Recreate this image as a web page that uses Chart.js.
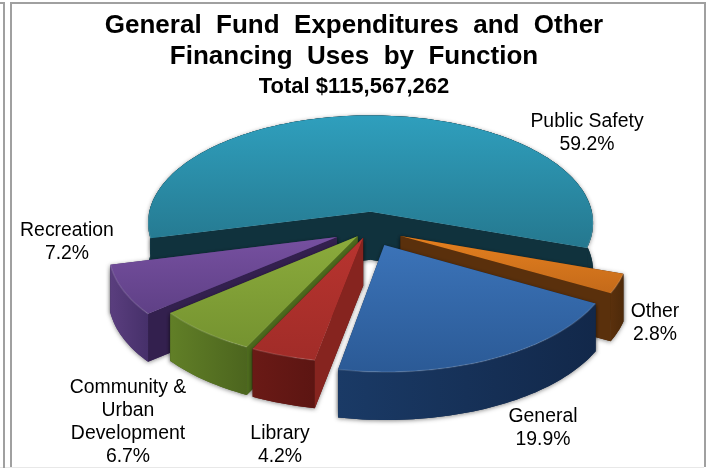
<!DOCTYPE html>
<html lang="en">
<head>
    <meta charset="UTF-8">
    <title>General Fund Expenditures</title>
    <script src="https://cdn.jsdelivr.net/npm/chart.js"></script>
    <style>
        html, body { margin: 0; background: #fff; overflow: hidden; }
        .frame-outer { position: absolute; left: 0; top: 2px; width: 3px; height: 466px; border-top: 2px solid #a0a0a0; border-right: 2px solid #a0a0a0; box-sizing: content-box; }
        .frame-inner { position: absolute; left: 10px; top: 2px; width: 692px; height: 463px; border: 2px solid #a0a0a0; border-bottom: 0; }
        .frame-base { position: absolute; left: 0; top: 467px; width: 704px; height: 1px; background: #e8e8e8; }
        canvas { position: absolute; left: 0; top: 0; }
    </style>
</head>
<body>
    <canvas id="fundChart" width="708" height="468"></canvas>
    <div class="frame-base"></div>
    <div class="frame-outer"></div>
    <div class="frame-inner"></div>

    <script>
        // Function names and share of the total, clockwise from the top slice
        const categories = ['Public Safety', 'Other', 'General', 'Library', 'Community & Urban Development', 'Recreation'];
        const shares = [59.2, 2.8, 19.9, 4.2, 6.7, 7.2];
        const labelLines = [['Public Safety'], ['Other'], ['General'], ['Library'], ['Community &', 'Urban', 'Development'], ['Recreation']];
        const titleLines = ['General  Fund  Expenditures  and  Other', 'Financing  Uses  by  Function'];
        const subtitleText = 'Total $115,567,262';

        // How far each slice is pulled out of the pie
        const explode = [27, 26, 27, 14, 14, 27];

        // Top gradient (far, near), radial wall, outer wall (left, right)
        const palette = [
            { far: '#2f9fbd', near: '#25788f', side: '#10323d', wallA: '#13404e', wallB: '#10323d' },
            { far: '#e4801f', near: '#c46a1a', side: '#5a300c', wallA: '#5a300c', wallB: '#4e2a0a' },
            { far: '#3b73b8', near: '#2b5a96', side: '#142b4c', wallA: '#1a3a66', wallB: '#12284a' },
            { far: '#b8342f', near: '#a12c28', side: '#86241f', wallA: '#6a1a16', wallB: '#5c1512' },
            { far: '#8bab3c', near: '#759330', side: '#4d6a1d', wallA: '#617f27', wallB: '#4c651e' },
            { far: '#7650a0', near: '#5f4086', side: '#33204e', wallA: '#5a3e7e', wallB: '#46306a' }
        ];
        // Text centres for each label block, first line
        const labelAnchors = [[587, 122], [655, 312], [543, 417], [280, 434], [128, 388], [67, 231]];
        const drawOrder = [0, 1, 5, 4, 3, 2];

        // Tilted projection of the flat pie
        const view = { cx: 369, cy: 229, rx: 225, ry: 110, tilt: 0.105, depth: 48 };

        function project(u, v) {
            const d = 1 - view.tilt * v;
            return [view.cx + view.rx * u / d, view.cy + view.ry * v / d];
        }

        function tracePath(ctx, pts) {
            ctx.beginPath();
            pts.forEach((p, i) => i ? ctx.lineTo(p[0], p[1]) : ctx.moveTo(p[0], p[1]));
            ctx.closePath();
        }

        function drop(pts) {
            return pts.map(p => [p[0], p[1] + view.depth]).reverse();
        }

        // Extruded slice built from the angles and radius of the arc element
        function drawSlice(ctx, el, colors) {
            const R = el.outerRadius;
            const mid = (el.startAngle + el.endAngle) / 2;
            const shift = (el.options.offset || 0) / R;
            const ox = Math.cos(mid) * shift;
            const oy = Math.sin(mid) * shift;
            const apex = project(ox, oy);
            const steps = Math.ceil((el.endAngle - el.startAngle) * 40);
            const rim = [];
            const angles = [];
            for (let i = 0; i <= steps; i++) {
                const a = el.startAngle + (el.endAngle - el.startAngle) * i / steps;
                angles.push(a);
                rim.push(project(ox + Math.cos(a), oy + Math.sin(a)));
            }
            const top = [apex, ...rim];
            const first = rim[0];
            const last = rim[rim.length - 1];
            const startFaces = Math.cos(el.startAngle) < 0;
            const endFaces = Math.cos(el.endAngle) > 0;

            // soft ground shadow under the whole prism
            ctx.save();
            ctx.shadowColor = 'rgba(0,0,0,0.45)';
            ctx.shadowBlur = 4;
            ctx.shadowOffsetY = 1;
            ctx.fillStyle = colors.wallB;
            tracePath(ctx, [...rim, ...drop(rim)]);
            ctx.fill();
            [first, last].forEach(p => {
                tracePath(ctx, [apex, p, ...drop([apex, p])]);
                ctx.fill();
            });
            ctx.restore();

            // outer wall
            const xs = rim.map(p => p[0]);
            const wall = ctx.createLinearGradient(Math.min(...xs), 0, Math.max(...xs), 0);
            wall.addColorStop(0, colors.wallA);
            wall.addColorStop(1, colors.wallB);
            ctx.fillStyle = wall;
            tracePath(ctx, [...rim, ...drop(rim)]);
            ctx.fill();

            // radial walls that face the viewer, as one shape when both do
            ctx.fillStyle = colors.side;
            const edge = [];
            if (startFaces) edge.push(first);
            edge.push(apex);
            if (endFaces) edge.push(last);
            if (edge.length > 1) {
                tracePath(ctx, [...edge, ...drop(edge)]);
                ctx.fill();
            }

            // top face
            const ys = top.map(p => p[1]);
            const face = ctx.createLinearGradient(0, Math.min(...ys), 0, Math.max(...ys));
            face.addColorStop(0, colors.far);
            face.addColorStop(1, colors.near);
            ctx.fillStyle = face;
            tracePath(ctx, top);
            ctx.fill();

            // bevel along the near part of the rim
            ctx.strokeStyle = 'rgba(255,255,255,0.12)';
            ctx.lineWidth = 1.5;
            ctx.beginPath();
            let open = false;
            rim.forEach((p, i) => {
                if (Math.sin(angles[i]) > 0) {
                    open ? ctx.lineTo(p[0], p[1]) : ctx.moveTo(p[0], p[1]);
                    open = true;
                } else {
                    open = false;
                }
            });
            ctx.stroke();
        }

        const tiltedPie = {
            id: 'tiltedPie',
            beforeDatasetDraw(chart) {
                const arcs = chart.getDatasetMeta(0).data;
                drawOrder.forEach(i => drawSlice(chart.ctx, arcs[i], palette[i]));
                return false;
            },
            afterDraw(chart) {
                const ctx = chart.ctx;
                ctx.save();
                ctx.fillStyle = '#000';
                ctx.textAlign = 'center';
                ctx.textBaseline = 'middle';
                ctx.font = '19.4px "Liberation Sans", Arial, sans-serif';
                labelLines.forEach((lines, i) => {
                    const [x, y] = labelAnchors[i];
                    const rows = [...lines, shares[i].toFixed(1) + '%'];
                    rows.forEach((row, r) => ctx.fillText(row, x, y + r * 22.8));
                });
                ctx.restore();
            }
        };

        new Chart(document.getElementById('fundChart'), {
            type: 'pie',
            data: {
                labels: categories,
                datasets: [{
                    data: shares,
                    backgroundColor: palette.map(c => c.far),
                    borderWidth: 0,
                    offset: explode
                }]
            },
            options: {
                responsive: false,
                animation: false,
                // first slice begins so that it wraps the back of the pie
                rotation: -104,
                layout: { padding: 0 },
                plugins: {
                    legend: { display: false },
                    tooltip: { enabled: false },
                    title: {
                        display: true,
                        text: titleLines,
                        color: '#000',
                        font: { family: '"Liberation Sans", Arial, sans-serif', size: 26, weight: 'bold', lineHeight: 1.17 },
                        padding: { top: 11, bottom: 0 }
                    },
                    subtitle: {
                        display: true,
                        text: subtitleText,
                        color: '#000',
                        font: { family: '"Liberation Sans", Arial, sans-serif', size: 22, weight: 'bold' },
                        padding: { top: 2, bottom: 0 }
                    }
                }
            },
            plugins: [tiltedPie]
        });
    </script>
</body>
</html>
